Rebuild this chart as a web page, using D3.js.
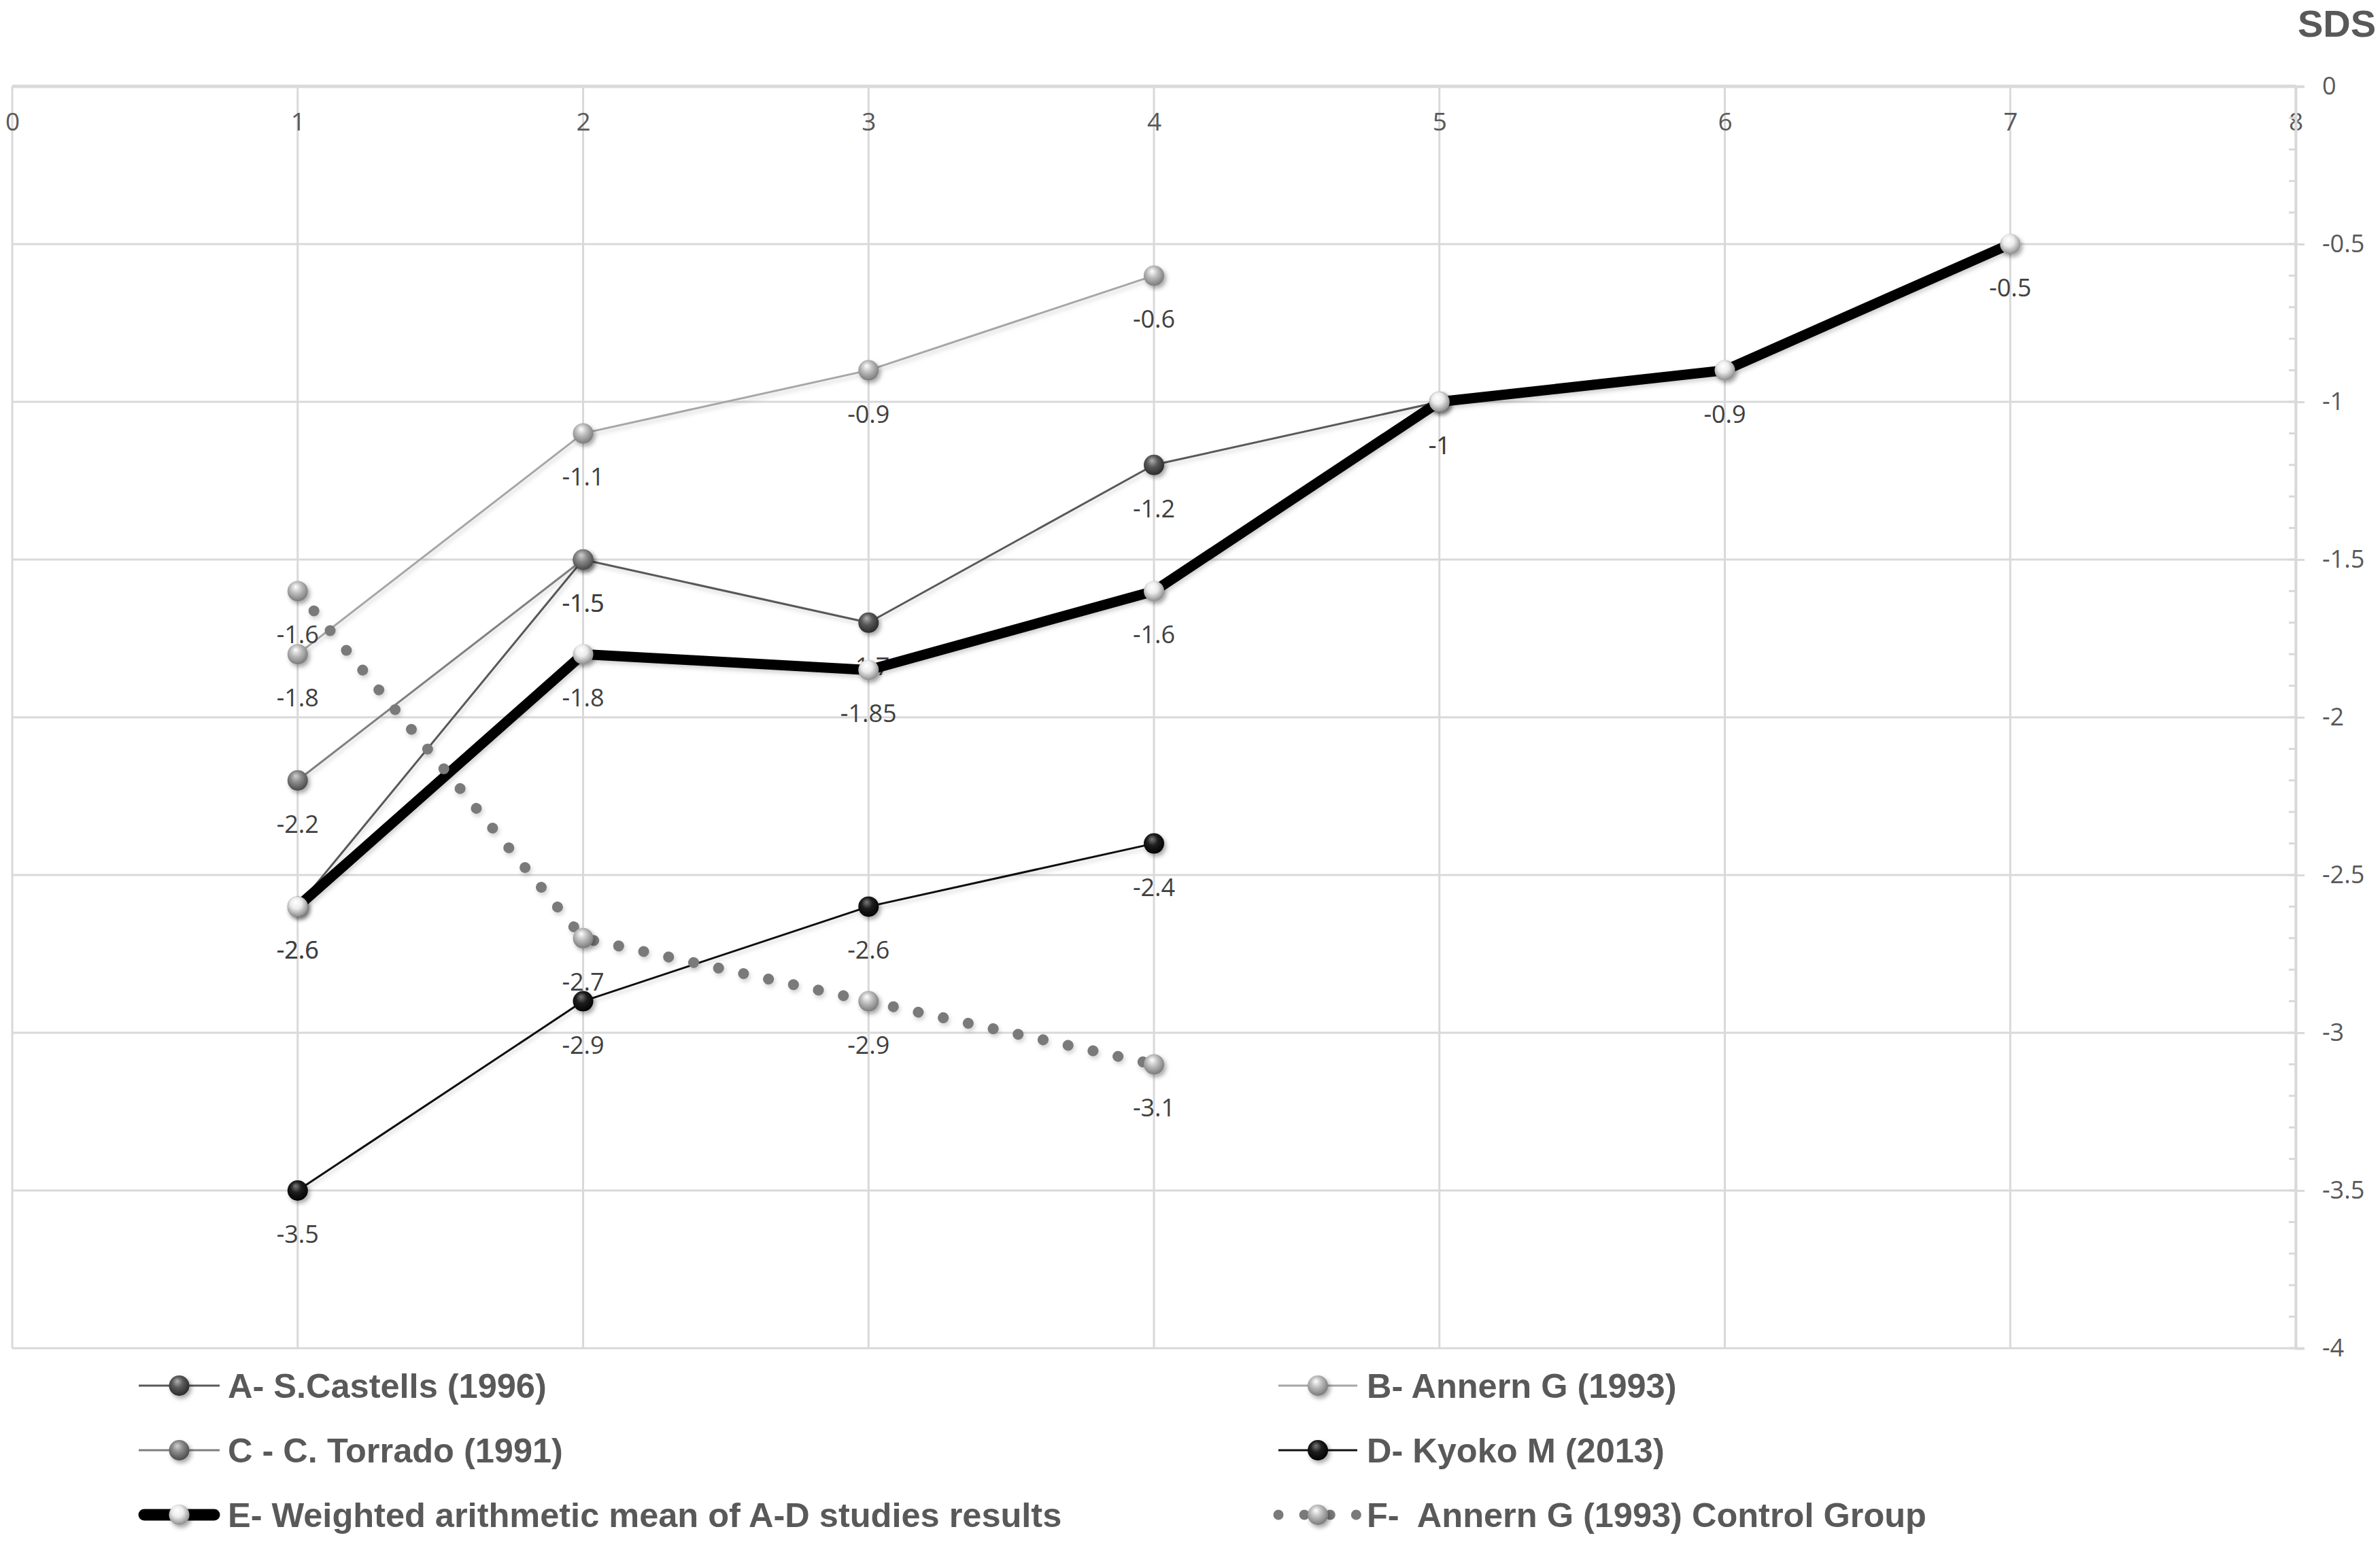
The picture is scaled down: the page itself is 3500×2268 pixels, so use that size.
<!DOCTYPE html>
<html>
<head>
<meta charset="utf-8">
<script src="https://cdn.jsdelivr.net/npm/d3@7"></script>
<style>
  body { margin: 0; background: #fff; }
  svg { display: block; }
</style>
</head>
<body>
<svg id="chart" width="3500" height="2268"></svg>
<script>
// ---- data ----
var xTicks = [0, 1, 2, 3, 4, 5, 6, 7, 8];
var yTicks = [0, -0.5, -1, -1.5, -2, -2.5, -3, -3.5, -4];

var castellsX = [1, 2, 3, 4, 5];
var castellsY = [-2.6, -1.5, -1.7, -1.2, -1];
var annernX = [1, 2, 3, 4];
var annernY = [-1.8, -1.1, -0.9, -0.6];
var torradoX = [1, 2];
var torradoY = [-2.2, -1.5];
var kyokoX = [1, 2, 3, 4];
var kyokoY = [-3.5, -2.9, -2.6, -2.4];
var meanX = [1, 2, 3, 4, 5, 6, 7];
var meanY = [-2.6, -1.8, -1.85, -1.6, -1, -0.9, -0.5];
var controlX = [1, 2, 3, 4];
var controlY = [-1.6, -2.7, -2.9, -3.1];

var seriesNames = [
  "A- S.Castells (1996)",
  "B- Annern G (1993)",
  "C - C. Torrado (1991)",
  "D- Kyoko M (2013)",
  "E- Weighted arithmetic mean of A-D studies results",
  "F-  Annern G (1993) Control Group"
];
var axisTitle = "SDS";

// ---- styling ----
var styles = [
  { line: "#595959", width: 3, dash: null, ball: ["#b0b0b0", "#5a5a5a", "#2a2a2a"] },
  { line: "#a6a6a6", width: 3, dash: null, ball: ["#ffffff", "#bdbdbd", "#7a7a7a"] },
  { line: "#7f7f7f", width: 3, dash: null, ball: ["#d0d0d0", "#8a8a8a", "#4a4a4a"] },
  { line: "#111111", width: 3, dash: null, ball: ["#7a7a7a", "#1e1e1e", "#000000"] },
  { line: "#000000", width: 15, dash: null, ball: ["#ffffff", "#ececec", "#8c8c8c"] },
  { line: "#7a7a7a", width: 16, dash: "0.1 37.5", ball: ["#ffffff", "#bfbfbf", "#7a7a7a"] }
];

var series = [
  d3.zip(castellsX, castellsY),
  d3.zip(annernX, annernY),
  d3.zip(torradoX, torradoY),
  d3.zip(kyokoX, kyokoY),
  d3.zip(meanX, meanY),
  d3.zip(controlX, controlY)
];

var svg = d3.select("#chart");
var defs = svg.append("defs");

var shadow = defs.append("filter").attr("id", "shadow")
  .attr("x", "-50%").attr("y", "-50%").attr("width", "200%").attr("height", "200%");
shadow.append("feDropShadow").attr("dx", 3).attr("dy", 4)
  .attr("stdDeviation", 3).attr("flood-color", "#000").attr("flood-opacity", 0.35);

var lineShadow = defs.append("filter").attr("id", "lineShadow")
  .attr("x", "-10%").attr("y", "-10%").attr("width", "120%").attr("height", "120%");
lineShadow.append("feDropShadow").attr("dx", 2).attr("dy", 4)
  .attr("stdDeviation", 3).attr("flood-color", "#000").attr("flood-opacity", 0.18);

styles.forEach(function(s, i) {
  var g = defs.append("radialGradient").attr("id", "ball" + i)
    .attr("cx", "45%").attr("cy", "40%").attr("r", "60%")
    .attr("fx", "40%").attr("fy", "28%");
  g.append("stop").attr("offset", "0%").attr("stop-color", s.ball[0]);
  g.append("stop").attr("offset", "45%").attr("stop-color", s.ball[1]);
  g.append("stop").attr("offset", "100%").attr("stop-color", s.ball[2]);
});

var x = d3.scaleLinear().domain([0, 8]).range([18, 3376]);
var y = d3.scaleLinear().domain([0, -4]).range([127, 1983]);

// ---- gridlines ----
var grid = svg.append("g").attr("stroke", "#d9d9d9").attr("stroke-width", 3);
grid.selectAll(".vg").data(xTicks).enter().append("line")
  .attr("x1", function(d) { return x(d); }).attr("x2", function(d) { return x(d); })
  .attr("y1", y(0)).attr("y2", y(-4));
grid.selectAll(".hg").data(yTicks).enter().append("line")
  .attr("x1", x(0)).attr("x2", x(8))
  .attr("y1", function(d) { return y(d); }).attr("y2", function(d) { return y(d); });

// top axis line + labels
svg.append("line").attr("x1", x(0)).attr("x2", x(8)).attr("y1", y(0)).attr("y2", y(0))
  .attr("stroke", "#d9d9d9").attr("stroke-width", 5);

var xAxis = d3.axisBottom(x).tickValues(xTicks).tickSize(0).tickPadding(39)
  .tickFormat(function(d) { return String(d); });
var gx = svg.append("g").attr("transform", "translate(0," + y(0) + ")").call(xAxis);
gx.select(".domain").remove();
gx.selectAll("text").attr("font-family", "'Open Sans', sans-serif")
  .attr("font-size", 37).attr("fill", "#595959");

// right axis
var gy = svg.append("g").attr("transform", "translate(" + x(8) + ",0)");
gy.selectAll(".minor").data(y.ticks(40)).enter().append("line")
  .attr("x1", -10).attr("x2", 0)
  .attr("y1", function(d) { return y(d); }).attr("y2", function(d) { return y(d); })
  .attr("stroke", "#d9d9d9").attr("stroke-width", 3);
var yAxis = d3.axisRight(y).tickValues(yTicks).tickSize(13).tickPadding(26)
  .tickFormat(function(d) { return String(d); });
gy.call(yAxis);
gy.select(".domain").attr("stroke", "#d9d9d9").attr("stroke-width", 4);
gy.selectAll(".tick line").attr("stroke", "#d9d9d9").attr("stroke-width", 3);
gy.selectAll("text").attr("font-family", "'Open Sans', sans-serif")
  .attr("font-size", 36).attr("fill", "#595959");

svg.append("text").attr("x", 3379).attr("y", 54)
  .attr("font-family", "'Liberation Sans', Arial, sans-serif").attr("font-weight", "bold")
  .attr("font-size", 56).attr("fill", "#595959").text(axisTitle);

// ---- series ----
var line = d3.line().x(function(d) { return x(d[0]); }).y(function(d) { return y(d[1]); });

series.forEach(function(data, i) {
  var s = styles[i];
  var g = svg.append("g");
  g.append("path").datum(data).attr("d", line)
    .attr("fill", "none").attr("stroke", s.line).attr("stroke-width", s.width)
    .attr("stroke-linejoin", "round")
    .attr("stroke-linecap", s.dash ? "round" : "butt")
    .attr("stroke-dasharray", s.dash)
    .attr("filter", "url(#lineShadow)");
  g.selectAll("circle").data(data).enter().append("circle")
    .attr("cx", function(d) { return x(d[0]); })
    .attr("cy", function(d) { return y(d[1]); })
    .attr("r", 15).attr("fill", "url(#ball" + i + ")")
    .attr("filter", "url(#shadow)");
  g.selectAll("text").data(data).enter().append("text")
    .attr("x", function(d) { return x(d[0]); })
    .attr("y", function(d) { return y(d[1]) + 77; })
    .attr("text-anchor", "middle")
    .attr("font-family", "'Open Sans', sans-serif").attr("font-size", 36)
    .attr("fill", "#404040")
    .text(function(d) { return String(d[1]); });
});

// ---- legend ----
var legendRows = [2038, 2133, 2228];
var legendCols = [{ x1: 204, x2: 323, tx: 335 }, { x1: 1880, x2: 1996, tx: 2010 }];

seriesNames.forEach(function(name, i) {
  var s = styles[i];
  var col = legendCols[i % 2];
  var ry = legendRows[Math.floor(i / 2)];
  var g = svg.append("g");
  var lx1 = col.x1, lx2 = col.x2;
  if (s.width > 5 && !s.dash) { lx1 += 8; lx2 -= 8; }
  g.append("line").attr("x1", lx1).attr("x2", lx2).attr("y1", ry).attr("y2", ry)
    .attr("stroke", s.line).attr("stroke-width", s.dash ? 15 : (s.width > 5 ? 17 : s.width))
    .attr("stroke-linecap", (s.dash || s.width > 5) ? "round" : "butt")
    .attr("stroke-dasharray", s.dash ? "0.1 38" : null);
  g.append("circle").attr("cx", (col.x1 + col.x2) / 2).attr("cy", ry).attr("r", 15)
    .attr("fill", "url(#ball" + i + ")").attr("filter", "url(#shadow)");
  g.append("text").attr("x", col.tx).attr("y", ry + 18)
    .attr("font-family", "'Liberation Sans', Arial, sans-serif").attr("font-weight", "bold")
    .attr("font-size", 50.5).attr("fill", "#595959")
    .style("white-space", "pre")
    .text(name);
});
</script>
</body>
</html>
